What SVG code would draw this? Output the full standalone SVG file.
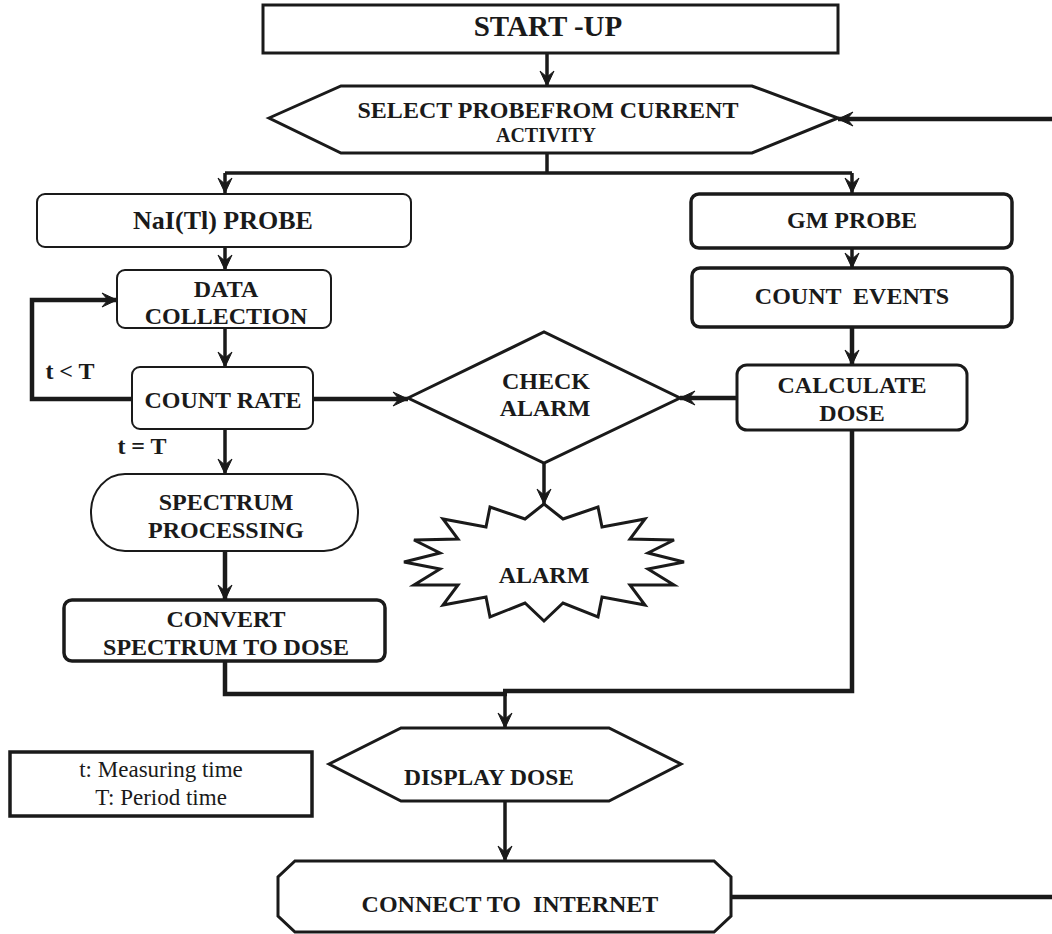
<svg xmlns="http://www.w3.org/2000/svg" width="1052" height="934" viewBox="0 0 1052 934">
<defs>
<style>
.n{fill:#fff;stroke:#1a1a1a;stroke-linejoin:miter}
.thin{stroke-width:2}
.med{stroke-width:3}
.thick{stroke-width:3.5}
.t{font-family:"Liberation Serif","Times New Roman",serif;font-weight:bold;font-size:24px;fill:#1a1a1a;text-anchor:middle}
.r{font-family:"Liberation Serif","Times New Roman",serif;font-size:23px;fill:#1a1a1a;text-anchor:middle}
.c{fill:none;stroke:#1a1a1a;stroke-width:3.5}
.cb{fill:none;stroke:#1a1a1a;stroke-width:4.5}
</style>
<marker id="ah" viewBox="-16 -8 17 16" refX="0" refY="0" markerWidth="17" markerHeight="16" markerUnits="userSpaceOnUse" orient="auto">
<path d="M0,0 L-15,-7 L-9,0 L-15,7 Z" fill="#1a1a1a" stroke="#1a1a1a" stroke-width="1" stroke-linejoin="miter"/>
</marker>
</defs>
<rect width="1052" height="934" fill="#fff"/>

<g id="connectors">
<path class="c" d="M547,53 V86" marker-end="url(#ah)"/>
<path class="c" d="M547,153 V173"/>
<path class="c" d="M225,173 H852"/>
<path class="c" d="M225,173 V193" marker-end="url(#ah)"/>
<path class="c" d="M852,173 V193" marker-end="url(#ah)"/>
<path class="cb" d="M1052,119 H838" marker-end="url(#ah)"/>
<path class="c" d="M225,247 V270" marker-end="url(#ah)"/>
<path class="c" d="M225,328 V367" marker-end="url(#ah)"/>
<path class="cb" d="M132,399 H32 V300 H117" marker-end="url(#ah)"/>
<path class="cb" d="M313,399 H408" marker-end="url(#ah)"/>
<path class="c" d="M225,429 V474" marker-end="url(#ah)"/>
<path class="cb" d="M225,551 V600" marker-end="url(#ah)"/>
<path class="c" d="M852,248 V268" marker-end="url(#ah)"/>
<path class="cb" d="M852,327 V365" marker-end="url(#ah)"/>
<path class="cb" d="M737,398 H680" marker-end="url(#ah)"/>
<path class="c" d="M544,463 V504" marker-end="url(#ah)"/>
<path class="cb" d="M225,661 V694 H507"/>
<path class="cb" d="M852,430 V691 H503"/>
<path class="c" d="M505,691 V728" marker-end="url(#ah)"/>
<path class="c" d="M505,801 V861" marker-end="url(#ah)"/>
<path class="cb" d="M731,897 H1052"/>
</g>

<g id="startup">
<rect class="n med" x="263" y="5" width="575" height="48"/>
<text class="t" x="548" y="36" style="font-size:29px">START -UP</text>
</g>

<g id="select">
<polygon class="n med" points="269,118 341,86 752,86 838,118 752,153 341,153"/>
<text class="t" x="548" y="118">SELECT PROBEFROM CURRENT</text>
<text class="t" x="546" y="142" style="font-size:20px">ACTIVITY</text>
</g>

<g id="nai">
<rect class="n thin" x="37" y="194" width="374" height="53" rx="8"/>
<text class="t" x="223" y="229" style="font-size:26px">NaI(Tl) PROBE</text>
</g>

<g id="datacoll">
<rect class="n thin" x="117" y="270" width="214" height="58" rx="8"/>
<text class="t" x="226" y="297">DATA</text>
<text class="t" x="226" y="324">COLLECTION</text>
</g>

<g id="countrate">
<rect class="n thin" x="132" y="367" width="181" height="62" rx="8"/>
<text class="t" x="223" y="408">COUNT RATE</text>
</g>

<text class="t" x="70" y="379">t &lt; T</text>
<text class="t" x="142" y="454">t = T</text>

<g id="spectrum">
<rect class="n thin" x="91" y="474" width="267" height="77" rx="34" ry="38"/>
<text class="t" x="226" y="510">SPECTRUM</text>
<text class="t" x="226" y="538">PROCESSING</text>
</g>

<g id="convert">
<rect class="n thick" x="64" y="600" width="321" height="61" rx="8"/>
<text class="t" x="226" y="627">CONVERT</text>
<text class="t" x="226" y="655">SPECTRUM TO DOSE</text>
</g>

<g id="gm">
<rect class="n thick" x="691" y="194" width="321" height="54" rx="8"/>
<text class="t" x="852" y="228">GM PROBE</text>
</g>

<g id="countevents">
<rect class="n thick" x="692" y="268" width="320" height="59" rx="8"/>
<text class="t" x="852" y="304" xml:space="preserve">COUNT  EVENTS</text>
</g>

<g id="calcdose">
<rect class="n med" x="737" y="365" width="230" height="65" rx="10"/>
<text class="t" x="852" y="393">CALCULATE</text>
<text class="t" x="852" y="421">DOSE</text>
</g>

<g id="checkalarm">
<polygon class="n med" points="408,398 544,332 680,398 544,463"/>
<text class="t" x="546" y="389">CHECK</text>
<text class="t" x="545" y="416">ALARM</text>
</g>

<g id="alarm">
<polygon class="n med" points="544,504 563,519 598,507 602,527 645,519 630,539 674,540 648,553 684,562 648,569 674,585 630,585 645,605 602,597 598,617 563,603 544,621 525,603 490,617 486,597 443,605 458,585 414,585 440,569 404,562 440,553 414,540 458,539 443,519 486,527 490,507 525,519"/>
<text class="t" x="544" y="583">ALARM</text>
</g>

<g id="legend">
<rect class="n thick" x="10" y="752" width="302" height="64"/>
<text class="r" x="161" y="777">t: Measuring time</text>
<text class="r" x="161" y="805">T: Period time</text>
</g>

<g id="display">
<polygon class="n med" points="329,764 401,728 609,728 681,764 609,801 401,801"/>
<text class="t" x="489" y="785" style="font-size:23.5px">DISPLAY DOSE</text>
</g>

<g id="internet">
<polygon class="n med" points="295,861 714,861 731,877 731,916 714,932 295,932 278,916 278,877"/>
<text class="t" x="510" y="912" xml:space="preserve">CONNECT TO  INTERNET</text>
</g>
</svg>
